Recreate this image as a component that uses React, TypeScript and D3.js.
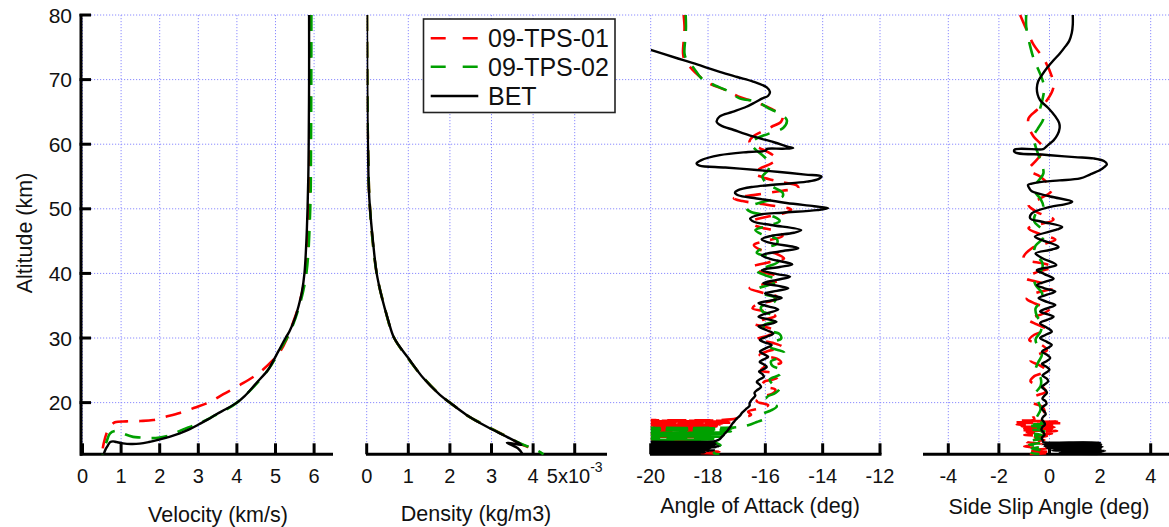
import React from "react";
import * as d3 from "d3";

type P = [number, number]; // [altitude km, value]

// ---------- data (altitude, value) ----------
const VEL_BET: P[] = [[80,5.87],[70,5.87],[60,5.86],[55,5.85],[50,5.83],[45,5.8],[40,5.75],[37,5.68],[35,5.6],[33,5.5],[31,5.36],[30,5.26],[28,5.08],[26,4.9],[25,4.8],[23,4.5],[21,4.2],[20,4.0],[19,3.72],[18.2,3.47],[17.4,3.25],[16.65,3.02],[15.9,2.78],[15.25,2.52],[14.7,2.25],[14.3,2.0],[13.9,1.72],[13.65,1.48],[13.6,1.25],[13.7,1.05],[13.9,0.88],[14.0,0.79],[13.9,0.72],[13.4,0.66],[12.8,0.6],[12.0,0.55]];
const VEL_01: P[] = [[80,5.9],[60,5.89],[50,5.87],[40,5.78],[35,5.6],[32,5.43],[29.7,5.28],[28,5.13],[26.6,4.94],[24.5,4.55],[22.7,4.07],[21.3,3.65],[20.1,3.3],[19.2,2.9],[18.4,2.52],[17.8,2.15],[17.3,1.83],[17.15,1.5],[17.1,1.14],[16.95,0.84],[16.3,0.71],[15.2,0.62],[13.7,0.55],[12.0,0.5]];
const VEL_02: P[] = [[80,5.93],[60,5.92],[50,5.9],[40,5.8],[35,5.62],[31,5.38],[28,5.1],[25,4.8],[20,4.0],[17.6,3.3],[17,3.1],[16.4,2.85],[15.7,2.55],[15.0,2.3],[14.6,2.0],[14.5,1.74],[14.6,1.5],[14.7,1.31],[15.1,1.1],[15.5,0.97],[15.6,0.84],[15.2,0.71],[13.9,0.62],[12.4,0.53],[12.0,0.52]];

const DEN_BET: P[] = [[80,0.005],[70,0.012],[63.7,0.02],[60,0.03],[53.3,0.05],[50,0.08],[45.7,0.14],[40,0.24],[36.4,0.36],[32.7,0.52],[30,0.66],[26.9,1.0],[23.8,1.36],[21.2,1.76],[20,2.0],[18.1,2.4],[16.3,2.88],[14.7,3.37],[13.6,3.69],[13.45,3.72],[13.8,3.37],[12.9,3.64],[12.0,3.75]];
const DEN_01: P[] = [[80,0.005],[60,0.03],[50,0.08],[40,0.24],[35,0.42],[30,0.66],[27,0.98],[24,1.34],[21,1.8],[20,2.0],[18,2.42],[16.3,2.9],[14.7,3.38],[13.6,3.7],[13.2,3.85],[12.8,3.97],[12.5,4.02]];
const DEN_02: P[] = [[80,0.006],[60,0.03],[50,0.08],[40,0.24],[35,0.42],[30,0.66],[27,0.98],[24,1.34],[21,1.8],[20,2.0],[18,2.42],[16.3,2.9],[14.7,3.38],[13.6,3.72],[13.0,3.95],[12.5,4.12],[12.0,4.25]];

const AOA_BET: P[] = [[74.6,-20.0],[73.9,-19.5],[73.0,-18.86],[72.1,-18.2],[71.2,-17.59],[70.4,-16.98],[69.7,-16.43],[68.8,-15.95],[68.1,-15.84],[67.5,-15.9],[67.1,-16.1],[66.5,-16.35],[65.8,-16.66],[65.0,-17.15],[64.3,-17.59],[63.5,-17.7],[62.9,-17.55],[62.2,-17.1],[61.2,-16.43],[60.3,-15.7],[59.6,-15.2],[59.4,-15.03],[59.3,-15.4],[59.25,-15.96],[59.0,-15.98],[58.8,-16.6],[58.3,-17.59],[57.5,-18.25],[57.0,-18.4],[56.7,-18.3],[56.4,-17.4],[56.0,-16.3],[55.7,-15.5],[55.3,-14.6],[55.0,-14.04],[54.6,-14.15],[54.2,-14.56],[53.8,-15.5],[53.4,-16.43],[52.9,-16.95],[52.5,-17.06],[52.1,-16.95],[51.6,-16.3],[50.9,-15.26],[50.4,-14.3],[50.1,-13.81],[49.8,-14.2],[49.4,-15.4],[49.1,-16.19],[48.5,-16.53],[48.0,-16.4],[47.5,-15.8],[46.7,-14.75],[46.3,-15.0],[45.8,-15.8],[45.3,-16.13],[44.8,-15.9],[43.9,-14.85],[43.4,-15.5],[42.8,-16.13],[42.2,-15.8],[41.4,-15.06],[41.0,-15.5],[40.5,-16.13],[39.9,-15.6],[39.5,-15.14],[39.0,-15.6],[38.5,-16.07],[38.1,-15.6],[37.7,-15.2],[37.3,-15.6],[36.9,-16.01],[36.5,-15.7],[36.2,-15.43],[35.8,-15.8],[35.4,-16.24],[34.9,-15.9],[34.4,-15.55],[33.9,-15.9],[33.3,-16.24],[32.9,-15.9],[32.5,-15.61],[32.1,-15.9],[31.8,-16.24],[31.2,-15.95],[30.7,-15.72],[30.2,-15.95],[29.7,-16.19],[29.3,-16.0],[28.9,-15.78],[28.4,-16.0],[27.9,-16.19],[27.5,-16.05],[27.1,-15.9],[26.7,-16.05],[26.3,-16.2],[25.9,-16.05],[25.5,-15.95],[25.1,-16.1],[24.8,-16.22],[24.4,-16.1],[24.0,-16.05],[23.6,-16.2],[23.2,-16.3],[22.8,-16.2],[22.4,-16.15],[21.9,-16.3],[21.5,-16.38],[21.1,-16.35],[20.7,-16.42],[20.3,-16.5],[19.9,-16.55],[19.5,-16.55],[19.1,-16.65],[18.7,-16.75],[18.4,-16.82],[18.0,-16.88],[17.6,-16.98],[17.2,-17.06],[16.8,-17.14],[16.4,-17.2],[16.0,-17.27],[15.6,-17.33],[15.3,-17.4],[15.0,-17.45],[14.7,-17.52],[14.4,-17.58],[14.2,-17.65],[14.0,-17.8],[13.95,-20.5],[13.88,-17.75],[13.8,-20.5],[13.72,-17.8],[13.64,-20.5],[13.56,-17.7],[13.48,-20.5],[13.4,-17.85],[13.32,-20.5],[13.24,-17.6],[13.16,-20.5],[13.08,-17.7],[13.0,-20.5],[12.92,-17.9],[12.84,-20.5],[12.76,-18.0],[12.68,-20.5],[12.6,-17.8],[12.52,-20.5],[12.44,-18.2],[12.36,-20.5],[12.28,-18.1],[12.2,-20.5],[12.12,-18.3],[12.04,-20.5]];
const AOA_01: P[] = [[80,-18.85],[78,-18.82],[76,-18.85],[74,-18.87],[72.8,-18.8],[71.8,-18.6],[70.7,-18.35],[69.4,-17.95],[68.4,-17.4],[67.4,-16.95],[66.6,-16.4],[65.8,-15.95],[65.0,-15.6],[64.3,-15.4],[63.5,-15.45],[62.7,-15.78],[61.9,-16.15],[61.2,-16.43],[60.5,-16.55],[60.1,-16.53],[59.4,-16.2],[58.5,-15.8],[57.6,-15.6],[57.0,-15.8],[56.2,-16.2],[55.5,-16.4],[54.9,-16.1],[54.2,-15.5],[53.6,-14.9],[53.2,-14.85],[52.8,-15.4],[52.2,-16.3],[51.6,-17.1],[51.2,-16.8],[50.6,-15.9],[49.9,-15.1],[49.4,-15.3],[48.8,-15.9],[48.0,-16.5],[47.3,-16.3],[46.5,-15.6],[45.8,-15.4],[45.1,-15.9],[44.4,-16.4],[43.7,-16.2],[43.0,-15.6],[42.3,-15.35],[41.7,-15.9],[41.0,-16.45],[40.3,-16.2],[39.6,-15.6],[39.0,-15.5],[38.3,-16.1],[37.7,-16.55],[37.0,-16.1],[36.4,-15.6],[35.8,-15.75],[35.2,-16.3],[34.6,-16.45],[34.0,-15.9],[33.4,-15.65],[32.8,-16.1],[32.2,-16.4],[31.6,-15.9],[31.0,-15.6],[30.4,-15.9],[29.8,-16.3],[29.2,-15.7],[28.6,-15.4],[28.0,-15.9],[27.4,-16.2],[26.8,-15.6],[26.2,-15.45],[25.6,-16.0],[25.0,-16.15],[24.4,-15.6],[23.8,-15.6],[23.2,-16.05],[22.6,-16.1],[22.0,-15.65],[21.4,-15.75],[20.8,-16.2],[20.2,-16.3],[19.6,-15.9],[19.1,-16.2],[18.6,-16.6],[18.1,-16.5],[17.7,-16.9],[17.4,-17.2],[17.3,-20.5],[17.22,-17.3],[17.14,-20.5],[17.06,-17.4],[16.98,-20.5],[16.9,-17.2],[16.82,-20.5],[16.74,-17.5],[16.66,-20.5],[16.58,-17.6],[16.5,-20.5],[16.42,-17.8],[16.34,-20.5],[16.26,-17.7],[16.18,-20.5],[16.1,-18.0],[16.02,-20.5],[15.94,-17.9],[15.86,-20.5],[15.78,-18.1],[15.6,-20.5],[15.4,-18.0],[15.2,-20.5],[15.0,-18.2],[14.8,-20.5],[14.6,-18.0],[14.4,-20.5],[14.2,-18.3],[14.05,-20.5],[13.9,-18.6],[13.5,-18.4],[13.0,-18.2],[12.6,-18.3],[12.5,-18.5],[12.4,-17.6],[12.25,-18.3],[12.1,-17.7],[12.0,-18.0]];
const AOA_02: P[] = [[80,-18.78],[78,-18.77],[76,-18.8],[74,-18.82],[72.8,-18.72],[71.8,-18.5],[70.3,-18.25],[69.4,-17.9],[68.1,-17.25],[67.1,-16.9],[66.6,-16.3],[65.6,-15.9],[64.6,-15.45],[63.7,-15.25],[62.5,-15.38],[61.6,-15.9],[60.9,-16.3],[60.1,-16.5],[59.2,-16.35],[58.1,-16.05],[57.0,-15.85],[56.0,-15.9],[55.0,-16.1],[53.9,-15.95],[53.2,-15.66],[52.5,-15.4],[51.9,-15.4],[51.1,-16.07],[50.1,-16.66],[49.5,-16.5],[48.8,-15.72],[48.1,-15.5],[47.4,-15.9],[46.7,-16.35],[46.0,-16.1],[45.3,-15.6],[44.6,-15.6],[43.9,-16.1],[43.2,-16.3],[42.5,-15.85],[41.8,-15.55],[41.1,-15.9],[40.4,-16.3],[39.7,-16.0],[39.0,-15.55],[38.3,-15.8],[37.6,-16.25],[36.9,-16.1],[36.2,-15.65],[35.5,-15.7],[34.8,-16.15],[34.1,-16.1],[33.4,-15.65],[32.7,-15.6],[32.0,-16.05],[31.3,-16.0],[30.6,-15.5],[29.9,-15.45],[29.2,-15.85],[28.5,-15.8],[27.8,-15.35],[27.1,-15.4],[26.4,-15.8],[25.7,-15.75],[25.0,-15.4],[24.3,-15.5],[23.6,-15.85],[22.9,-15.75],[22.2,-15.5],[21.5,-15.65],[20.8,-15.95],[20.1,-15.8],[19.4,-15.6],[18.7,-15.85],[18.2,-16.1],[17.6,-16.0],[17.0,-16.3],[16.5,-16.6],[16.2,-17.0],[16.1,-20.5],[16.02,-17.1],[15.94,-20.5],[15.86,-17.2],[15.78,-20.5],[15.7,-17.3],[15.62,-20.5],[15.54,-17.2],[15.46,-20.5],[15.38,-17.4],[15.3,-20.5],[15.22,-17.5],[15.14,-20.5],[15.06,-17.4],[14.98,-20.5],[14.9,-17.6],[14.82,-20.5],[14.74,-17.5],[14.66,-20.5],[14.58,-17.7],[14.5,-20.5],[14.42,-17.6],[14.34,-20.5],[14.26,-17.9],[14.2,-20.5],[14.1,-18.0],[13.5,-17.6],[12.8,-17.5],[12.2,-17.8],[12.0,-17.6]];

const SS_BET: P[] = [[80,0.92],[78.5,0.92],[77.2,0.88],[76.0,0.78],[75.1,0.62],[74.0,0.4],[73.0,0.16],[71.8,-0.1],[70.7,-0.3],[69.7,-0.45],[68.7,-0.5],[67.7,-0.47],[66.8,-0.37],[65.6,-0.05],[64.3,0.23],[63.3,0.38],[62.5,0.4],[61.5,0.32],[60.6,0.16],[59.9,-0.05],[59.3,-0.22],[59.2,-0.3],[59.2,-1.36],[58.9,-1.4],[58.6,-1.25],[58.4,-0.3],[58.3,0.03],[58.0,1.0],[57.8,1.74],[57.4,2.15],[56.9,2.27],[56.4,2.15],[56.0,2.0],[55.3,1.6],[54.7,1.21],[54.4,0.4],[54.2,-0.24],[53.9,-0.7],[53.7,-0.85],[53.2,-0.8],[52.7,-0.7],[51.9,0.03],[51.1,0.9],[50.7,0.6],[50.3,0.03],[49.3,-0.7],[48.5,-0.76],[48.0,-0.3],[47.2,0.5],[46.8,0.3],[45.7,-0.58],[45.3,-0.4],[44.1,0.36],[43.7,0.1],[43.1,-0.55],[42.4,-0.3],[41.3,0.27],[41.0,0.05],[40.5,-0.5],[39.9,-0.2],[39.2,0.16],[38.8,-0.1],[38.2,-0.5],[37.7,-0.2],[37.2,0.23],[36.7,-0.1],[36.2,-0.43],[35.6,-0.1],[35.1,0.23],[34.6,-0.1],[34.1,-0.37],[33.7,-0.1],[33.3,0.16],[32.8,-0.1],[32.3,-0.37],[31.6,-0.1],[31.0,0.09],[30.5,-0.15],[30.0,-0.37],[29.4,-0.1],[28.9,0.09],[28.4,-0.1],[27.9,-0.3],[27.4,-0.1],[26.9,0.03],[26.4,-0.12],[26.0,-0.3],[25.5,-0.1],[25.1,0.0],[24.6,-0.15],[24.2,-0.28],[23.7,-0.1],[23.3,-0.05],[22.8,-0.2],[22.4,-0.3],[21.9,-0.15],[21.5,-0.1],[21.0,-0.22],[20.6,-0.28],[20.2,-0.15],[19.8,-0.12],[19.4,-0.25],[19.0,-0.3],[18.6,-0.2],[18.2,-0.15],[17.8,-0.25],[17.4,-0.3],[17.0,-0.22],[16.6,-0.18],[16.2,-0.28],[15.8,-0.32],[15.4,-0.24],[15.0,-0.2],[14.7,-0.28],[14.4,-0.3],[14.1,-0.26],[13.9,-0.25],[13.85,0.8],[13.8,2.0],[13.72,-0.2],[13.64,1.9],[13.56,-0.25],[13.48,2.05],[13.4,-0.1],[13.32,1.7],[13.24,-0.2],[13.16,2.1],[13.08,0.2],[13.0,1.8],[12.92,-0.1],[12.84,2.0],[12.76,0.5],[12.68,1.9],[12.6,0.1],[12.52,2.2],[12.44,0.8],[12.36,1.7],[12.28,0.4],[12.2,2.1],[12.1,1.0],[12.0,1.9]];
const SS_01: P[] = [[80,-1.16],[78.2,-0.96],[75.4,-0.63],[73.3,-0.24],[70.5,0.09],[68.9,0.16],[66.8,-0.1],[65.3,-0.5],[64.0,-0.83],[62.5,-0.8],[61.2,-0.63],[59.4,-0.24],[58.3,-0.35],[57.3,-0.57],[56.0,-0.83],[55.0,-0.37],[52.9,0.09],[51.6,-0.37],[50.6,-0.83],[49.5,-0.5],[48.3,0.16],[47.0,-0.83],[46.0,-0.3],[45.2,0.23],[43.9,-0.7],[42.3,-1.03],[41.5,-0.2],[41.0,0.15],[40.2,-0.5],[39.3,-0.95],[38.5,-0.3],[37.7,0.1],[36.9,-0.6],[36.1,-0.9],[35.3,-0.55],[34.5,0.0],[33.7,-0.3],[32.9,-0.85],[32.1,-0.5],[31.3,-0.1],[30.5,-0.6],[29.7,-0.8],[28.9,-0.3],[28.1,-0.1],[27.3,-0.55],[26.5,-0.75],[25.7,-0.35],[24.9,-0.1],[24.1,-0.6],[23.3,-0.75],[22.5,-0.3],[21.7,-0.15],[20.9,-0.6],[20.1,-0.7],[19.4,-0.3],[18.7,-0.2],[18.0,-0.65],[17.4,-0.6],[17.2,-1.2],[17.1,0.3],[16.9,-1.5],[16.8,0.5],[16.6,-1.3],[16.5,0.3],[16.3,-1.1],[16.2,0.2],[16.0,-1.0],[15.9,0.1],[15.7,-1.2],[15.6,0.3],[15.4,-0.9],[15.2,0.1],[15.0,-1.0],[14.8,-0.1],[14.5,-0.8],[14.2,-0.2],[13.9,-0.9],[13.6,-0.3],[13.2,-1.0],[12.9,-0.1],[12.6,-0.9],[12.3,0.1],[12.0,-0.8]];
const SS_02: P[] = [[80,-0.92],[78.2,-0.92],[75.1,-0.76],[73.3,-0.63],[70.2,-0.3],[68.7,-0.21],[66.5,-0.3],[65.3,-0.37],[64.0,-0.24],[62.5,-0.45],[61.2,-0.63],[59.9,-0.57],[58.5,-0.45],[57.6,-0.37],[55.5,-0.24],[54.0,-0.5],[52.8,-0.6],[51.5,-0.35],[50.3,-0.25],[49.2,-0.55],[48.0,-0.6],[46.8,-0.3],[45.5,-0.25],[44.3,-0.55],[43.0,-0.6],[41.8,-0.3],[40.6,-0.3],[39.4,-0.6],[38.2,-0.55],[37.0,-0.3],[35.8,-0.3],[34.6,-0.55],[33.4,-0.5],[32.2,-0.3],[31.0,-0.35],[29.8,-0.55],[28.6,-0.45],[27.4,-0.3],[26.2,-0.45],[25.0,-0.55],[23.8,-0.35],[22.6,-0.35],[21.4,-0.55],[20.2,-0.45],[19.0,-0.35],[17.8,-0.5],[17.2,-0.6],[16.8,-0.2],[16.5,-0.9],[16.2,-0.3],[15.9,-0.8],[15.6,-0.2],[15.3,-0.7],[15.0,-0.3],[14.7,-0.8],[14.4,-0.3],[14.1,-0.7],[13.8,-0.35],[13.5,-0.8],[13.2,-0.3],[12.9,-0.7],[12.6,-0.35],[12.3,-0.75],[12.0,-0.4]];

const ALT_TICKS = [20, 30, 40, 50, 60, 70, 80];
const VEL_TICKS = [0, 1, 2, 3, 4, 5, 6];
const DEN_TICKS = [0, 1, 2, 3, 4, 5];
const AOA_TICKS = [-20, -18, -16, -14, -12];
const SS_TICKS = [-4, -2, 0, 2, 4];
const SERIES_NAMES = ["09-TPS-01", "09-TPS-02", "BET"];

// ---------- layout ----------
const W = 1169, H = 527;
const Y0 = 454.3, Y1 = 15;
const FONT = "'Liberation Sans', Arial, Helvetica, sans-serif";
const RED = "#ff0000", GREEN = "#00a000", GRID = "#8c8cff";
const DASH = "16,11";

const yScale = d3.scaleLinear().domain([12, 80]).range([Y0, Y1]);

type Panel = {
  id: string; domain: [number, number]; range: [number, number];
  axisX: [number, number]; ticks: number[]; title: string; titleX: number; titleY: number;
  s01: P[]; s02: P[]; bet: P[];
};

const PANELS: Panel[] = [
  { id: "vel", domain: [0, 6.5], range: [82.5, 333.4], axisX: [80, 333], ticks: VEL_TICKS, title: "Velocity (km/s)", titleX: 218, titleY: 522, s01: VEL_01, s02: VEL_02, bet: VEL_BET },
  { id: "den", domain: [0, 5.8], range: [366.7, 608], axisX: [366, 607], ticks: DEN_TICKS, title: "Density (kg/m3)", titleX: 476, titleY: 521, s01: DEN_01, s02: DEN_02, bet: DEN_BET },
  { id: "aoa", domain: [-20, -12], range: [650.7, 880], axisX: [650, 881.5], ticks: AOA_TICKS, title: "Angle of Attack (deg)", titleX: 760, titleY: 513, s01: AOA_01, s02: AOA_02, bet: AOA_BET },
  { id: "ss", domain: [-5, 5], range: [923, 1176], axisX: [923, 1169], ticks: SS_TICKS, title: "Side Slip Angle (deg)", titleX: 1049, titleY: 514, s01: SS_01, s02: SS_02, bet: SS_BET },
];

function tickLabel(id: string, t: number) {
  if (id === "den" && t === 5) return null;
  return String(t);
}

export default function App() {
  return (
    <svg width={W} height={H} style={{ position: "absolute", left: 0, top: 0, background: "#fff" }} fontFamily={FONT}>
      <defs>
        {PANELS.map((p) => (
          <clipPath id={`clip-${p.id}`} key={p.id}>
            <rect x={p.range[0]} y={Y1 - 1} width={Math.min(p.range[1], W) - p.range[0]} height={Y0 - Y1 + 2} />
          </clipPath>
        ))}
      </defs>
      <rect x={0} y={0} width={W} height={H} fill="#fff" />
      {ALT_TICKS.map((a) => (
        <line key={a} x1={82} x2={W} y1={yScale(a)} y2={yScale(a)} stroke={GRID} strokeWidth={1} strokeDasharray="1.2,1.8" />
      ))}
      {PANELS.map((p) => {
        const x = d3.scaleLinear().domain(p.domain).range(p.range);
        const line = d3.line<P>().x((d) => x(d[1])).y((d) => yScale(d[0])).curve(d3.curveCatmullRom.alpha(0.5));
        return (
          <g key={p.id}>
            {p.ticks.map((t) => (
              <line key={t} x1={x(t)} x2={x(t)} y1={Y1} y2={Y0} stroke={GRID} strokeWidth={1} strokeDasharray="1.2,1.8" />
            ))}
            <line x1={p.axisX[0]} x2={p.axisX[1]} y1={Y0} y2={Y0} stroke="#000" strokeWidth={3} />
            {p.ticks.map((t) => (
              <line key={"t" + t} x1={x(t)} x2={x(t)} y1={Y0} y2={Y0 - 11} stroke="#000" strokeWidth={3} />
            ))}
            {p.ticks.map((t) => {
              const lab = tickLabel(p.id, t);
              if (lab === null) {
                return (
                  <text key={"l" + t} x={x(t)} y={483} textAnchor="middle" fontSize={20} fill="#111">
                    5x10<tspan dy={-11} fontSize={14}>-3</tspan>
                  </text>
                );
              }
              return (
                <text key={"l" + t} x={x(t)} y={483} textAnchor="middle" fontSize={20} fill="#111">{lab}</text>
              );
            })}
            <text x={p.titleX} y={p.titleY} textAnchor="middle" fontSize={21.5} fill="#111">{p.title}</text>
            <g clipPath={`url(#clip-${p.id})`}>
              <path d={line(p.s01) || ""} fill="none" stroke={RED} strokeWidth={2.6} strokeDasharray={DASH} />
              <path d={line(p.s02) || ""} fill="none" stroke={GREEN} strokeWidth={2.6} strokeDasharray={DASH} />
              <path d={line(p.bet) || ""} fill="none" stroke="#000" strokeWidth={2.4} />
            </g>
          </g>
        );
      })}
      <line x1={81} x2={81} y1={Y1 - 1} y2={Y0 + 1.5} stroke="#000" strokeWidth={3} />
      {ALT_TICKS.map((a) => (
        <g key={a}>
          <line x1={79.5} x2={91} y1={yScale(a)} y2={yScale(a)} stroke="#000" strokeWidth={3} />
          <text x={72} y={yScale(a)} dy="0.36em" textAnchor="end" fontSize={21} fill="#111">{a}</text>
        </g>
      ))}
      <text transform={`translate(31.5,233) rotate(-90)`} textAnchor="middle" fontSize={21.5} fill="#111">Altitude (km)</text>
      <g>
        <rect x={423.5} y={19} width={191.5} height={93.5} fill="#fff" stroke="#222" strokeWidth={1.6} />
        {SERIES_NAMES.map((n, i) => {
          const cy = [38.3, 66.7, 96][i];
          const col = [RED, GREEN, "#000"][i];
          return (
            <g key={n}>
              <line x1={430.7} x2={478.3} y1={cy} y2={cy} stroke={col} strokeWidth={i === 2 ? 2.4 : 2.6} strokeDasharray={i === 2 ? undefined : "15,17"} />
              <text x={488} y={cy} dy="0.36em" fontSize={25} fill="#111">{n}</text>
            </g>
          );
        })}
      </g>
    </svg>
  );
}
